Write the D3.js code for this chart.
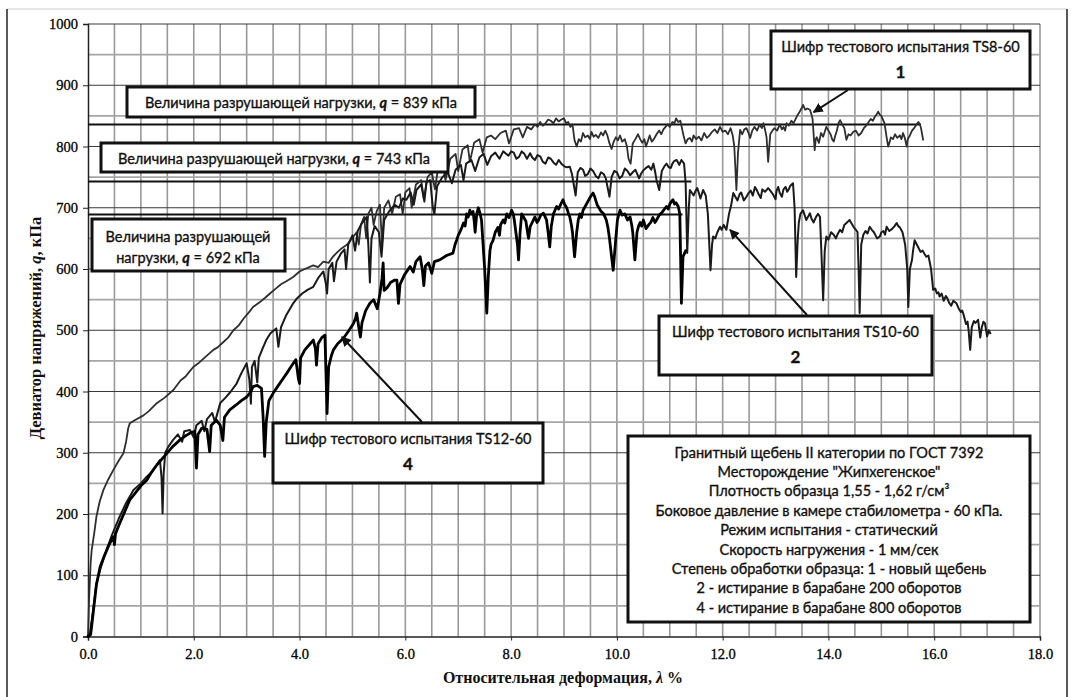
<!DOCTYPE html>
<html><head><meta charset="utf-8">
<script src="https://cdn.jsdelivr.net/npm/d3@7"></script>
<style>body{margin:0;background:#fff}svg{display:block}</style>
</head><body>
<svg id="chart" width="1072" height="697"></svg>
<script>
// ---------- DATA ----------
const xTickValues = [0,2,4,6,8,10,12,14,16,18];
const yTickValues = [0,100,200,300,400,500,600,700,800,900,1000];

// TS8-60 (1) – new crushed stone, [strain %, q kPa]
const ts8_60 = [[0,0],[0.02,60],[0.05,120],[0.07,141],[0.12,170],[0.16,196],[0.22,220],[0.29,239],[0.38,256],[0.48,272],[0.58,287],[0.67,299],[0.72,318],[0.76,340],[0.79,348],[0.9,354],[1.05,361],[1.15,368],[1.3,381],[1.45,390],[1.61,402],[1.75,418],[1.85,425],[1.99,440],[2.1,447],[2.2,455],[2.37,468],[2.45,472],[2.55,480],[2.65,488],[2.75,500],[2.85,508],[2.95,520],[3.05,530],[3.12,538],[3.25,546],[3.35,553],[3.44,560],[3.55,568],[3.65,575],[3.75,580],[3.88,587],[4.0,596],[4.1,600],[4.26,606],[4.35,603],[4.45,612],[4.55,610],[4.63,620],[4.72,628],[4.8,634],[4.9,640],[5.01,652],[5.08,660],[5.12,640],[5.16,672],[5.22,685],[5.26,650],[5.3,690],[5.36,700],[5.4,672],[5.46,695],[5.52,705],[5.56,640],[5.6,700],[5.68,712],[5.75,690],[5.82,718],[5.9,722],[5.95,690],[6.0,725],[6.08,732],[6.12,700],[6.2,738],[6.3,745],[6.35,715],[6.42,750],[6.5,758],[6.56,730],[6.62,765],[6.7,772],[6.76,745],[6.85,780],[6.95,788],[7.0,760],[7.08,795],[7.18,802],[7.22,775],[7.3,806],[7.4,812],[7.46,790],[7.54,815],[7.62,818],[7.7,812],[7.8,822],[7.9,826],[7.96,805],[8.05,828],[8.15,830],[8.22,815],[8.3,832],[8.38,828],[8.45,836],[8.5,832],[8.55,840],[8.6,834],[8.65,838],[8.7,844],[8.75,842],[8.8,838],[8.85,846],[8.9,841],[8.95,844],[9.0,846],[9.04,838],[9.08,840],[9.12,832],[9.16,836],[9.2,810],[9.24,800],[9.28,812],[9.32,808],[9.36,822],[9.4,815],[9.45,818],[9.49,812],[9.52,824],[9.56,816],[9.6,819],[9.65,814],[9.7,823],[9.74,818],[9.78,826],[9.82,818],[9.86,805],[9.9,796],[9.94,808],[9.98,815],[10.02,810],[10.06,818],[10.1,808],[10.15,812],[10.19,800],[10.22,780],[10.26,772],[10.3,805],[10.35,812],[10.4,820],[10.44,812],[10.48,806],[10.52,812],[10.55,800],[10.59,810],[10.62,818],[10.66,808],[10.7,812],[10.75,820],[10.8,826],[10.84,820],[10.88,828],[10.92,832],[10.96,836],[11.0,832],[11.05,840],[11.09,838],[11.12,846],[11.16,840],[11.2,842],[11.23,830],[11.26,818],[11.3,805],[11.34,812],[11.38,814],[11.42,808],[11.45,818],[11.5,812],[11.55,816],[11.6,810],[11.65,822],[11.7,814],[11.75,818],[11.8,824],[11.85,828],[11.9,822],[11.95,832],[12.0,824],[12.05,826],[12.1,820],[12.15,830],[12.19,818],[12.22,800],[12.26,729],[12.29,790],[12.33,827],[12.37,820],[12.41,828],[12.45,830],[12.49,822],[12.52,814],[12.56,826],[12.6,832],[12.65,826],[12.7,836],[12.74,830],[12.77,838],[12.8,828],[12.83,815],[12.86,775],[12.9,820],[12.94,826],[12.98,830],[13.03,826],[13.08,836],[13.12,828],[13.15,832],[13.18,826],[13.21,838],[13.25,834],[13.3,842],[13.34,838],[13.38,845],[13.42,852],[13.45,856],[13.49,862],[13.52,868],[13.56,860],[13.6,862],[13.65,860],[13.68,852],[13.7,845],[13.72,820],[13.74,794],[13.76,812],[13.78,815],[13.82,806],[13.86,822],[13.9,816],[13.96,832],[14.0,826],[14.04,820],[14.07,812],[14.1,808],[14.13,818],[14.16,826],[14.19,838],[14.22,843],[14.26,836],[14.3,830],[14.34,811],[14.38,820],[14.42,818],[14.47,824],[14.52,826],[14.57,818],[14.62,822],[14.67,830],[14.72,835],[14.76,840],[14.8,845],[14.84,842],[14.88,849],[14.91,852],[14.94,857],[14.97,852],[15.0,850],[15.03,844],[15.06,838],[15.1,815],[15.13,800],[15.16,808],[15.18,815],[15.22,812],[15.26,820],[15.3,814],[15.35,818],[15.38,812],[15.41,822],[15.44,815],[15.46,808],[15.48,800],[15.5,812],[15.54,818],[15.58,826],[15.62,830],[15.65,834],[15.7,840],[15.73,836],[15.75,830],[15.79,811]];

// TS10-60 (2) – 200 drum revolutions
const ts10_60 = [[0,0],[0.04,5],[0.1,45],[0.16,87],[0.25,115],[0.35,141],[0.45,165],[0.6,196],[0.72,218],[0.86,239],[1.0,250],[1.11,261],[1.2,268],[1.3,280],[1.36,288],[1.39,260],[1.41,201],[1.43,265],[1.46,300],[1.52,310],[1.61,321],[1.7,330],[1.78,318],[1.82,335],[1.93,337],[2.0,325],[2.05,345],[2.15,352],[2.2,335],[2.25,355],[2.35,365],[2.4,350],[2.5,381],[2.6,390],[2.7,400],[2.81,413],[2.9,430],[3.0,446],[3.05,420],[3.08,380],[3.1,440],[3.15,450],[3.2,415],[3.23,455],[3.3,470],[3.37,484],[3.45,495],[3.56,503],[3.6,473],[3.65,505],[3.75,525],[3.88,544],[3.95,552],[4.05,560],[4.15,566],[4.26,571],[4.35,585],[4.45,596],[4.5,575],[4.52,560],[4.55,600],[4.62,610],[4.65,580],[4.7,612],[4.78,625],[4.85,632],[4.88,600],[4.92,640],[5.0,655],[5.05,630],[5.1,662],[5.18,675],[5.27,685],[5.3,640],[5.33,578],[5.36,650],[5.42,670],[5.5,660],[5.55,620],[5.6,680],[5.7,695],[5.8,705],[5.88,700],[5.95,715],[6.02,713],[6.1,725],[6.16,705],[6.21,729],[6.3,738],[6.36,710],[6.4,742],[6.47,745],[6.52,700],[6.55,690],[6.6,735],[6.7,750],[6.8,758],[6.88,740],[6.95,762],[7.05,770],[7.1,745],[7.15,772],[7.25,778],[7.32,760],[7.4,782],[7.48,788],[7.55,770],[7.62,784],[7.7,790],[7.78,780],[7.85,792],[7.95,785],[8.0,792],[8.05,790],[8.1,780],[8.15,783],[8.2,792],[8.25,788],[8.3,780],[8.36,789],[8.4,782],[8.45,778],[8.5,786],[8.55,784],[8.6,775],[8.65,772],[8.7,782],[8.75,780],[8.8,774],[8.85,770],[8.9,778],[8.95,772],[9.0,768],[9.05,766],[9.11,767],[9.15,755],[9.18,740],[9.22,720],[9.26,758],[9.31,765],[9.36,762],[9.4,752],[9.45,755],[9.5,764],[9.55,760],[9.6,752],[9.65,748],[9.7,758],[9.75,755],[9.79,748],[9.82,735],[9.86,718],[9.9,750],[9.95,760],[10.0,758],[10.05,748],[10.1,752],[10.15,764],[10.2,760],[10.25,753],[10.3,758],[10.35,762],[10.39,754],[10.42,748],[10.46,756],[10.5,761],[10.55,765],[10.6,768],[10.65,762],[10.69,772],[10.72,760],[10.75,745],[10.8,729],[10.85,760],[10.9,768],[10.94,772],[10.98,766],[11.02,765],[11.05,772],[11.08,776],[11.13,778],[11.18,770],[11.22,778],[11.27,772],[11.3,740],[11.33,626],[11.36,700],[11.38,729],[11.42,724],[11.45,720],[11.49,728],[11.52,732],[11.55,724],[11.58,715],[11.63,729],[11.68,720],[11.72,690],[11.77,598],[11.8,640],[11.82,653],[11.86,650],[11.9,660],[11.95,669],[11.98,664],[12.02,672],[12.07,664],[12.12,690],[12.16,704],[12.2,724],[12.24,718],[12.28,712],[12.32,722],[12.35,725],[12.4,712],[12.45,718],[12.49,724],[12.53,728],[12.57,720],[12.61,734],[12.65,728],[12.68,722],[12.72,716],[12.75,730],[12.8,726],[12.86,732],[12.9,728],[12.95,722],[13.0,714],[13.02,728],[13.05,734],[13.08,724],[13.12,718],[13.15,730],[13.19,734],[13.22,726],[13.25,730],[13.28,736],[13.33,740],[13.36,700],[13.39,587],[13.42,650],[13.44,676],[13.47,690],[13.52,696],[13.55,688],[13.58,680],[13.62,686],[13.65,691],[13.68,682],[13.72,676],[13.76,684],[13.8,690],[13.84,685],[13.87,620],[13.9,549],[13.93,630],[13.96,653],[14.0,648],[14.05,660],[14.1,656],[14.14,650],[14.18,658],[14.22,664],[14.26,660],[14.3,672],[14.35,676],[14.4,680],[14.44,674],[14.48,668],[14.52,664],[14.55,660],[14.57,600],[14.59,528],[14.62,640],[14.66,656],[14.7,662],[14.74,658],[14.78,669],[14.82,664],[14.86,660],[14.92,650],[14.97,653],[15.0,660],[15.04,662],[15.07,656],[15.1,669],[15.15,662],[15.2,665],[15.25,670],[15.29,675],[15.32,670],[15.35,668],[15.4,660],[15.45,640],[15.49,600],[15.51,538],[15.54,600],[15.58,615],[15.6,630],[15.63,647],[15.67,640],[15.7,635],[15.74,628],[15.78,630],[15.82,624],[15.85,620],[15.89,622],[15.94,600],[15.98,566],[16.02,568],[16.05,560],[16.08,562],[16.1,555],[16.14,560],[16.18,548],[16.22,556],[16.25,552],[16.28,545],[16.32,540],[16.36,548],[16.42,544],[16.46,536],[16.5,530],[16.53,532],[16.56,524],[16.6,510],[16.63,514],[16.65,500],[16.68,468],[16.71,505],[16.75,515],[16.78,512],[16.83,517],[16.87,488],[16.9,505],[16.93,514],[16.96,511],[17.0,490],[17.03,500],[17.06,495]];

// TS12-60 (4) – 800 drum revolutions
const ts12_60 = [[0,0],[0.05,3],[0.1,40],[0.16,85],[0.23,114],[0.3,130],[0.4,150],[0.48,163],[0.5,150],[0.52,168],[0.6,185],[0.7,205],[0.79,223],[0.9,235],[1.0,246],[1.11,255],[1.2,268],[1.3,280],[1.4,290],[1.49,299],[1.6,310],[1.74,321],[1.85,328],[1.95,333],[2.02,335],[2.05,275],[2.08,330],[2.15,340],[2.25,338],[2.3,302],[2.33,345],[2.43,353],[2.5,345],[2.55,320],[2.58,358],[2.68,370],[2.8,378],[2.9,385],[3.0,391],[3.08,400],[3.12,408],[3.2,410],[3.28,405],[3.31,360],[3.34,294],[3.37,350],[3.42,385],[3.5,397],[3.6,410],[3.68,420],[3.76,430],[3.85,442],[3.93,452],[3.98,420],[4.0,413],[4.02,455],[4.1,468],[4.2,478],[4.26,484],[4.3,470],[4.32,443],[4.35,478],[4.42,488],[4.48,492],[4.5,430],[4.52,364],[4.55,440],[4.6,458],[4.64,468],[4.72,478],[4.83,487],[4.92,498],[5.02,511],[5.06,520],[5.08,528],[5.12,505],[5.15,489],[5.18,512],[5.25,532],[5.33,544],[5.4,550],[5.47,535],[5.52,560],[5.56,585],[5.58,610],[5.6,565],[5.66,570],[5.72,578],[5.8,582],[5.84,582],[5.87,544],[5.9,575],[5.98,590],[6.09,604],[6.15,595],[6.2,612],[6.28,620],[6.32,600],[6.35,573],[6.38,605],[6.44,610],[6.5,593],[6.55,612],[6.65,615],[6.78,622],[6.9,626],[6.94,640],[6.97,647],[7.0,655],[7.04,662],[7.07,668],[7.1,675],[7.13,670],[7.16,690],[7.19,685],[7.22,696],[7.25,690],[7.28,694],[7.3,680],[7.32,660],[7.35,690],[7.38,700],[7.41,692],[7.44,680],[7.47,640],[7.5,600],[7.54,528],[7.57,590],[7.6,630],[7.62,640],[7.66,647],[7.7,660],[7.75,668],[7.78,655],[7.8,672],[7.85,680],[7.88,675],[7.92,690],[7.96,684],[8.01,696],[8.04,690],[8.06,680],[8.09,660],[8.12,640],[8.14,615],[8.17,660],[8.2,690],[8.24,684],[8.28,678],[8.31,660],[8.33,650],[8.36,669],[8.4,676],[8.45,685],[8.49,676],[8.52,680],[8.56,688],[8.61,691],[8.64,686],[8.67,680],[8.7,660],[8.73,636],[8.76,670],[8.8,690],[8.83,696],[8.86,702],[8.9,698],[8.94,706],[8.98,713],[9.01,706],[9.05,700],[9.08,692],[9.11,685],[9.14,672],[9.16,660],[9.2,620],[9.24,660],[9.27,680],[9.3,690],[9.33,684],[9.36,696],[9.4,702],[9.45,710],[9.5,718],[9.55,724],[9.58,718],[9.6,712],[9.63,704],[9.66,700],[9.7,694],[9.74,691],[9.77,686],[9.8,680],[9.83,668],[9.86,650],[9.9,620],[9.93,598],[9.97,640],[10.01,680],[10.04,690],[10.06,696],[10.1,688],[10.15,690],[10.2,680],[10.25,685],[10.28,672],[10.3,660],[10.34,615],[10.38,660],[10.41,670],[10.44,676],[10.47,670],[10.5,680],[10.55,666],[10.6,672],[10.64,676],[10.68,684],[10.72,676],[10.75,680],[10.8,688],[10.85,692],[10.9,698],[10.94,702],[10.97,698],[11.0,706],[11.03,710],[11.06,713],[11.09,706],[11.12,708],[11.16,702],[11.19,690],[11.22,544],[11.25,620],[11.28,626],[11.3,630]];

// failure load reference lines: drawn level (kPa), end strain (%), labelled value
const refLevels = [836, 743, 689];
const refEnds = [15.75, 11.41, 11.24];
const refLabels = [839, 743, 692];

const infoLines = [
  "Гранитный щебень II категории по ГОСТ 7392",
  "Месторождение \"Жипхегенское\"",
  "Плотность образца 1,55 - 1,62 г/см³",
  "Боковое давление в камере стабилометра - 60 кПа.",
  "Режим испытания - статический",
  "Скорость нагружения - 1 мм/сек",
  "Степень обработки образца: 1 - новый  щебень",
  "2 - истирание в барабане 200 оборотов",
  "4 - истирание в барабане 800 оборотов"
];

// ---------- CHART ----------
const svg = d3.select("#chart");
const W = 1072, H = 697;
const x = d3.scaleLinear().domain([0, 18]).range([88, 1040]);
const y = d3.scaleLinear().domain([0, 1000]).range([636.5, 24]);

const serif = "'Liberation Serif','DejaVu Serif',serif";
const sans = "Lato,'Open Sans',sans-serif";

svg.append("rect").attr("width", W).attr("height", H).attr("fill", "#fff");
// outer frame
svg.append("line").attr("x1", 7).attr("x2", 1067).attr("y1", 9).attr("y2", 9).attr("stroke", "#ccc").attr("stroke-width", 1);
svg.append("line").attr("x1", 7).attr("x2", 7).attr("y1", 9).attr("y2", H).attr("stroke", "#222").attr("stroke-width", 1.5);
svg.append("line").attr("x1", 1067).attr("x2", 1067).attr("y1", 9).attr("y2", H).attr("stroke", "#222").attr("stroke-width", 1.5);

// grid
const g = svg.append("g");
const xMinor = d3.range(0.5, 18.01, 0.5);
g.selectAll(".vg").data(xMinor).join("line")
  .attr("x1", d => x(d)).attr("x2", d => x(d)).attr("y1", y(0)).attr("y2", y(1000))
  .attr("stroke", "#999").attr("stroke-width", 1.6);
const yHalf = d3.range(50, 1000, 100);
g.selectAll(".hg50").data(yHalf).join("line")
  .attr("x1", x(0)).attr("x2", x(18)).attr("y1", d => y(d)).attr("y2", d => y(d))
  .attr("stroke", "#a6a6a6").attr("stroke-width", 1.8);
g.selectAll(".hg100").data(yTickValues.slice(1)).join("line")
  .attr("x1", x(0)).attr("x2", x(18)).attr("y1", d => y(d)).attr("y2", d => y(d))
  .attr("stroke", "#3a3a3a").attr("stroke-width", 1.1);

// axes
const xAxis = d3.axisBottom(x).tickValues(xTickValues).tickFormat(d3.format(".1f")).tickSize(4).tickPadding(8);
const yAxis = d3.axisLeft(y).tickValues(yTickValues).tickFormat(d3.format("d")).tickSize(5).tickPadding(5);
const gx = svg.append("g").attr("transform", `translate(0,${y(0)})`).call(xAxis);
const gy = svg.append("g").attr("transform", `translate(${x(0)},0)`).call(yAxis);
[gx, gy].forEach(a => {
  a.select(".domain").attr("stroke", "#222").attr("stroke-width", 1.5);
  a.selectAll(".tick line").attr("stroke", "#222");
  a.selectAll(".tick text").attr("font-family", serif).attr("font-size", 14.5).attr("fill", "#000")
    .attr("stroke", "#000").attr("stroke-width", 0.3);
});

// axis titles
const xt = svg.append("text").attr("x", 563).attr("y", 683).attr("text-anchor", "middle")
  .attr("font-family", serif).attr("font-weight", "bold").attr("font-size", 16).attr("fill", "#111");
xt.append("tspan").text("Относительная деформация, ");
xt.append("tspan").attr("font-style", "italic").text("λ");
xt.append("tspan").text(" %");
const yt = svg.append("text").attr("transform", "translate(41,328) rotate(-90)").attr("text-anchor", "middle")
  .attr("font-family", serif).attr("font-weight", "bold").attr("font-size", 16.5).attr("fill", "#111");
yt.append("tspan").text("Девиатор напряжений, ");
yt.append("tspan").attr("font-style", "italic").text("q");
yt.append("tspan").text(", кПа");

// reference lines
svg.selectAll(".ref").data(refLevels).join("line")
  .attr("x1", x(0)).attr("x2", (d, i) => x(refEnds[i]))
  .attr("y1", d => y(d)).attr("y2", d => y(d))
  .attr("stroke", "#111").attr("stroke-width", 2);

// curves
const line = d3.line().x(d => x(d[0])).y(d => y(d[1]));
const series = [
  {data: ts8_60, color: "#2e2e2e", w: 1.8},
  {data: ts10_60, color: "#1a1a1a", w: 2.0},
  {data: ts12_60, color: "#000", w: 2.8}
];
svg.selectAll(".curve").data(series).join("path")
  .attr("d", d => line(d.data)).attr("fill", "none")
  .attr("stroke", d => d.color).attr("stroke-width", d => d.w)
  .attr("stroke-linejoin", "round").attr("stroke-linecap", "round");

// arrow marker
svg.append("defs").append("marker").attr("id", "ah").attr("viewBox", "0 0 10 10")
  .attr("refX", 9).attr("refY", 5).attr("markerWidth", 5).attr("markerHeight", 5)
  .attr("orient", "auto").attr("markerUnits", "strokeWidth")
  .append("path").attr("d", "M0,0 L10,5 L0,10 Z").attr("fill", "#111");

function box(x0, y0, x1, y1) {
  svg.append("rect").attr("x", x0).attr("y", y0).attr("width", x1 - x0).attr("height", y1 - y0)
    .attr("fill", "#fff").attr("stroke", "#111").attr("stroke-width", 3);
}
function txt(cx, cy, size, weight) {
  return svg.append("text").attr("x", cx).attr("y", cy).attr("text-anchor", "middle")
    .attr("dominant-baseline", "central").attr("font-family", sans)
    .attr("font-size", size).attr("font-weight", weight || "normal").attr("fill", "#111")
    .attr("stroke", "#111").attr("stroke-width", 0.35);
}

// failure load boxes
box(127, 87, 475, 117);
let t = txt(301, 102, 14.5);
t.append("tspan").text("Величина разрушающей нагрузки, ");
t.append("tspan").attr("font-weight", "bold").attr("font-style", "italic").text("q");
t.append("tspan").text(` = ${refLabels[0]} кПа`);

box(101, 143, 448, 172);
t = txt(274, 158, 14.5);
t.append("tspan").text("Величина разрушающей нагрузки, ");
t.append("tspan").attr("font-weight", "bold").attr("font-style", "italic").text("q");
t.append("tspan").text(` = ${refLabels[1]} кПа`);

box(92, 219, 285, 271);
txt(188, 236, 14.5).text("Величина разрушающей");
t = txt(188, 257, 14.5);
t.append("tspan").text("нагрузки, ");
t.append("tspan").attr("font-weight", "bold").attr("font-style", "italic").text("q");
t.append("tspan").text(` = ${refLabels[2]} кПа`);

// test code boxes + arrows
const codes = [
  {box: [771, 31, 1030, 89], name: "TS8-60", num: "1", tail: [848, 90], tip: [13.72, 856]},
  {box: [659, 316, 932, 375], name: "TS10-60", num: "2", tail: [807, 315], tip: [12.14, 664]},
  {box: [273, 423, 543, 483], name: "TS12-60", num: "4", tail: [422, 422], tip: [4.8, 489]}
];
codes.forEach(c => {
  svg.append("line").attr("x1", c.tail[0]).attr("y1", c.tail[1])
    .attr("x2", x(c.tip[0])).attr("y2", y(c.tip[1]))
    .attr("stroke", "#111").attr("stroke-width", 2).attr("marker-end", "url(#ah)");
  box(...c.box);
  const cx = (c.box[0] + c.box[2]) / 2;
  txt(cx, c.box[1] + 15, 14.5).text("Шифр тестового испытания " + c.name);
  txt(cx, c.box[1] + 40, 17, "bold").text(c.num);
});

// info box
box(628, 436, 1030, 622);
infoLines.forEach((s, i) => txt(829, 452 + i * 19.4, 14.5).text(s));
</script>
</body></html>
